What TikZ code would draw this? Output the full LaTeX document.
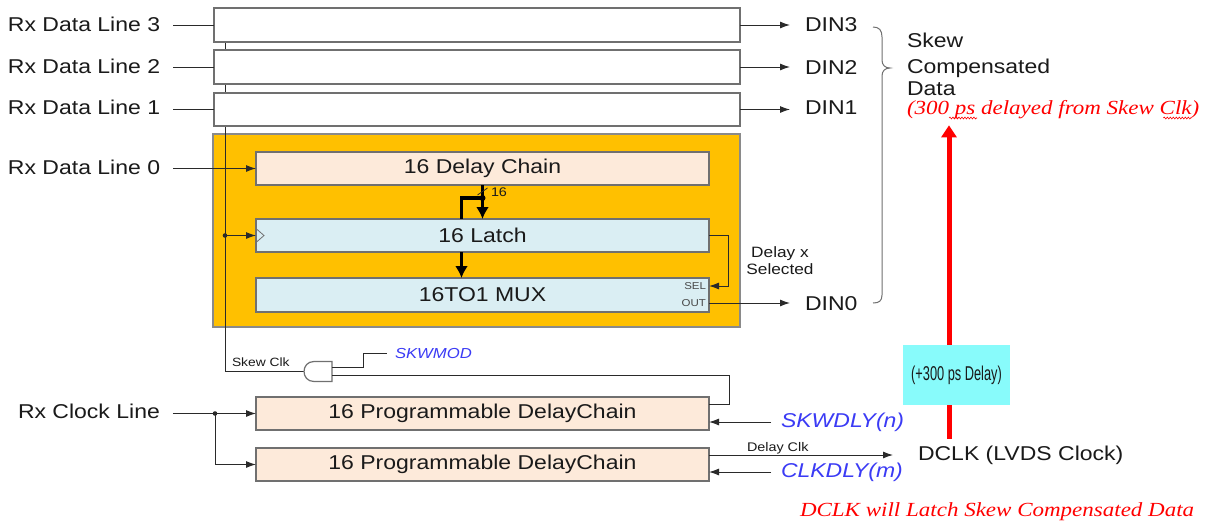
\documentclass[tikz,border=0pt]{standalone}
\usepackage{fontspec}
\setmainfont{Liberation Sans}[FakeStretch=1.15]
\newfontfamily\rfont{Liberation Serif}[FakeStretch=1.15]
\newfontfamily\nfont{Liberation Sans}[FakeStretch=0.64]
\usetikzlibrary{arrows.meta,decorations.pathmorphing}
\pgfdeclarelayer{back}
\pgfdeclarelayer{mid}
\pgfsetlayers{back,mid,main}
\newcommand\myfs[1]{\fontsize{#1}{#1}\selectfont}
\definecolor{orng}{HTML}{FFC000}
\definecolor{orngline}{HTML}{8A8A8A}
\definecolor{peach}{HTML}{FDEADA}
\definecolor{lblue}{HTML}{DAEEF3}
\definecolor{cyanbox}{HTML}{88FBFB}
\definecolor{bluetxt}{HTML}{3B3BF5}
\definecolor{boxgray}{HTML}{707070}
\definecolor{txt}{HTML}{1A1A1A}
\definecolor{wirec}{HTML}{2A2A2A}
\definecolor{redc}{HTML}{FF0000}
\begin{document}
\begin{tikzpicture}[x=1pt,y=-1pt,
  every node/.style={inner sep=0pt, outer sep=0pt},
  blk/.style={draw=boxgray, line width=1.3pt, anchor=north west, text=txt, font=\myfs{20}},
  lbl/.style={anchor=base west, text=txt, font=\myfs{20}},
  wire/.style={line width=1pt, draw=wirec},
  arr/.style={wire, -{Latex[length=10pt,width=7pt]}},
  bus/.style={line width=3.5pt, draw=black},
  busarr/.style={bus, -{Latex[length=12pt,width=13pt]}},
  gatestyle/.style={draw=boxgray, line width=1.2pt, fill=white},
  squig/.style={redc, line width=0.6pt, decorate, decoration={snake, amplitude=0.9pt, segment length=3pt}}]
\useasboundingbox (0,0) rectangle (1210,523);

\begin{pgfonlayer}{back}
\fill[white] (0,0) rectangle (1210,523);
\node[blk, fill=orng, draw=orngline, minimum width=527pt, minimum height=193pt] (orange) at (213,134) {};
\end{pgfonlayer}

% boxes
\node[blk, fill=white, minimum width=526pt, minimum height=34pt] (b3) at (214,8) {};
\node[blk, fill=white, minimum width=526pt, minimum height=34pt] (b2) at (214,50) {};
\node[blk, fill=white, minimum width=526pt, minimum height=33pt] (b1) at (214,93) {};
\node[blk, fill=peach, minimum width=453pt, minimum height=33pt] (delay) at (256,152) {16 Delay Chain};
\node[blk, fill=lblue, minimum width=453pt, minimum height=33pt] (latch) at (256,219) {16 Latch};
\node[blk, fill=lblue, minimum width=453pt, minimum height=34pt] (mux) at (256,278) {16TO1 MUX};
\node[blk, fill=peach, minimum width=453pt, minimum height=33pt] (prog1) at (256,397) {16 Programmable DelayChain};
\node[blk, fill=peach, minimum width=453pt, minimum height=33pt] (prog2) at (256,448) {16 Programmable DelayChain};
\node[minimum width=28pt, minimum height=20pt, anchor=north west] (gate) at (304,361.5) {};

% labels
\node[lbl] (rx3) at (8,31) {Rx Data Line 3};
\node[lbl] (rx2) at (8,73) {Rx Data Line 2};
\node[lbl] (rx1) at (8,114) {Rx Data Line 1};
\node[lbl] (rx0) at (8,174) {Rx Data Line 0};
\node[lbl] (rxclk) at (18,418) {Rx Clock Line};
\node[lbl] (din3) at (805,31) {DIN3};
\node[lbl] (din2) at (805,74) {DIN2};
\node[lbl] (din1) at (805,114) {DIN1};
\node[lbl] (din0) at (805,310) {DIN0};
\node[lbl] (skw1) at (907,47) {Skew};
\node[lbl] (skw2) at (907,73) {Compensated};
\node[lbl] (skw3) at (907,95) {Data};
\node[lbl, text=redc, font=\rfont\itshape\myfs{20}] (redtxt) at (907,114) {(300 ps delayed from Skew Clk)};
\node[lbl, text=redc, font=\rfont\itshape\myfs{20}] (redbot) at (800,516) {DCLK will Latch Skew Compensated Data};
\node[lbl] (dclk) at (918,460) {DCLK (LVDS Clock)};
\node[lbl, text=bluetxt, font=\itshape\myfs{20}] (skwdly) at (781,427) {SKWDLY(n)};
\node[lbl, text=bluetxt, font=\itshape\myfs{20}] (clkdly) at (781,477) {CLKDLY(m)};
\node[lbl, text=bluetxt, font=\itshape\myfs{14.5}] (skwmod) at (395,358) {SKWMOD};
\node[lbl, font=\myfs{12}] (skewclk) at (232,366) {Skew Clk};
\node[lbl, font=\myfs{12.5}] (dlyclk) at (747,451) {Delay Clk};
\node[anchor=base, text=txt, font=\myfs{15}] (dsel1) at (780,257) {Delay x};
\node[anchor=base, text=txt, font=\myfs{15}] (dsel2) at (780,274) {Selected};
\node[anchor=base east, text=txt!80, font=\myfs{10}] (sel) at (706,289) {SEL};
\node[anchor=base east, text=txt!80, font=\myfs{10}] (out) at (706,306) {OUT};
\node[lbl, font=\myfs{12.5}] (sixteen) at (491,196) {16};

% spell-check squiggles under the red note
\draw[squig] ([xshift=42pt,yshift=-4pt]redtxt.base west) -- ([xshift=70pt,yshift=-4pt]redtxt.base west);
\draw[squig] ([xshift=-36pt,yshift=-4pt]redtxt.base east) -- ([xshift=-8pt,yshift=-4pt]redtxt.base east);

% clock wire behind white boxes
\begin{pgfonlayer}{mid}
\draw[wire] ([xshift=11pt]b3.south west) |- (gate.west);
\end{pgfonlayer}

% data inputs
\draw[wire] ([xshift=13pt]rx3.east |- b3.west) -- (b3.west);
\draw[wire] ([xshift=13pt]rx2.east |- b2.west) -- (b2.west);
\draw[wire] ([xshift=13pt]rx1.east |- b1.west) -- (b1.west);
\draw[arr] ([xshift=13pt]rx0.east |- delay.west) -- (delay.west);

% data outputs
\draw[arr] (b3.east) -- ([xshift=-15pt]din3.west |- b3.east);
\draw[arr] (b2.east) -- ([xshift=-15pt]din2.west |- b2.east);
\draw[arr] (b1.east) -- ([xshift=-15pt]din1.west |- b1.east);
\coordinate (muxout) at ([yshift=-8pt]mux.east);
\draw[arr] (muxout) -- ([xshift=-15pt]din0.west |- muxout);

% latch clock
\fill[wirec] ([xshift=11pt]b3.south west |- latch.west) circle[radius=2.3];
\draw[arr] ([xshift=11pt]b3.south west |- latch.west) -- (latch.west);
\draw[boxgray, line width=0.8pt] ([yshift=7pt]latch.west) -- ([xshift=8pt]latch.west) -- ([yshift=-7pt]latch.west);

% buses
\draw[busarr] (delay.south) -- (delay.south |- latch.north);
\draw[bus] ([yshift=-13pt]delay.south) -| ([xshift=-21pt]latch.north);
\fill ([yshift=-13pt]delay.south) circle[radius=3];
\draw[wirec, line width=0.8pt] ([xshift=-5pt,yshift=-10pt]delay.south) -- ([xshift=5pt,yshift=-3pt]delay.south);
\draw[busarr] ([xshift=-21pt]latch.south) -- ([xshift=-21pt]latch.south |- mux.north);

% select
\coordinate (muxsel) at ([yshift=9pt]mux.east);
\draw[arr] (latch.east) -- ++(19,0) |- (muxsel);

% AND gate
\draw[gatestyle] (gate.north east) -- ([xshift=-18pt]gate.north east)
  .. controls ([xshift=-31.3pt]gate.north east) and ([xshift=-31.3pt]gate.south east) .. ([xshift=-18pt]gate.south east)
  -- (gate.south east) -- cycle;
\draw[wire] ([yshift=4.5pt]gate.east) -- ++(31,0) |- ([xshift=-8pt]skwmod.west);
\draw[wire] ([yshift=-4pt]gate.east) -| ([xshift=20pt,yshift=9.5pt]prog1.east) -- ([yshift=9.5pt]prog1.east);

% clock inputs
\coordinate (ckdot) at ([xshift=-41pt]prog1.west);
\draw[arr] ([xshift=13pt]rxclk.east |- prog1.west) -- (prog1.west);
\fill[wirec] (ckdot) circle[radius=2.3];
\draw[arr] (ckdot) |- (prog2.west);

% right side of delay chains
\coordinate (p1in) at ([yshift=-8.5pt]prog1.east);
\draw[arr] ([xshift=-10pt]skwdly.west |- p1in) -- (p1in);
\coordinate (p2out) at ([yshift=9.5pt]prog2.east);
\draw[arr] (p2out) -- ([xshift=-25pt]dclk.west |- p2out);
\coordinate (p2in) at ([yshift=-7.5pt]prog2.east);
\draw[arr] ([xshift=-10pt]clkdly.west |- p2in) -- (p2in);

% brace
\draw[boxgray, line width=1pt] (873,27) .. controls (879,27) and (882,30) .. (882,37) -- (882,60)
  .. controls (882,65) and (885,68) .. (890,68) .. controls (885,68) and (882,71) .. (882,76)
  -- (882,295) .. controls (882,301) and (879,303) .. (873,303);

% red arrow and delay box
\draw[redc, line width=5pt, -{Triangle[length=12pt,width=15pt]}] ([xshift=31pt,yshift=7pt]dclk.north west) -- ([xshift=42pt,yshift=-7pt]redtxt.south west);
\node[anchor=north west, fill=cyanbox, minimum width=107pt, minimum height=60pt, font=\nfont\myfs{20}, text=txt] (dbox) at (903,345) {(+300 ps Delay)};
\end{tikzpicture}
\end{document}
